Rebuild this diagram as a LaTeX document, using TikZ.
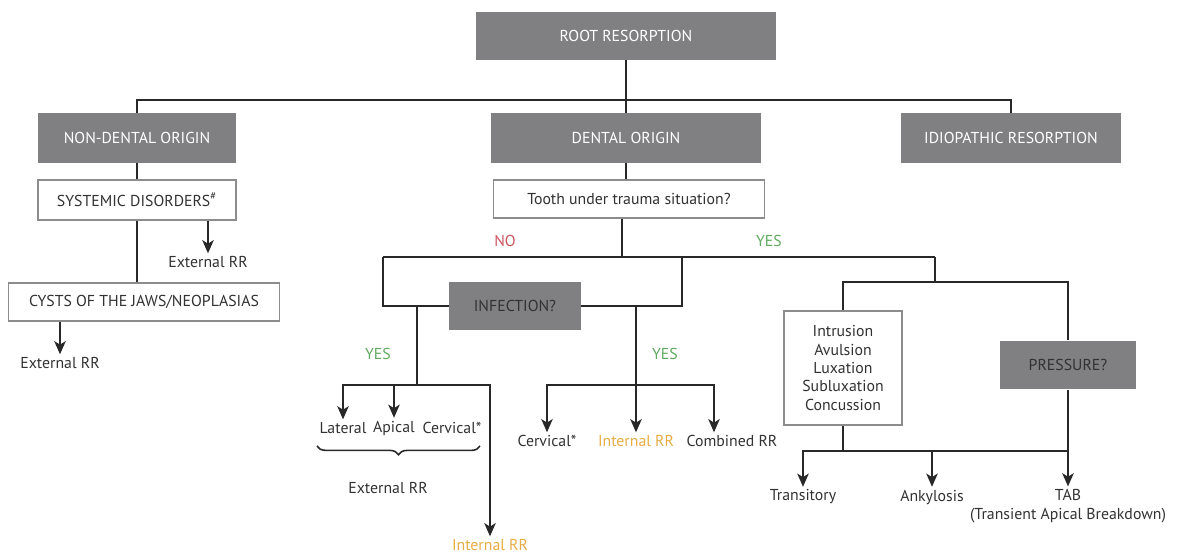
\documentclass[tikz,border=0pt]{standalone}
\usepackage{fontspec}
\setmainfont{PT Sans}
\definecolor{rrgray}{RGB}{128,128,131}
\definecolor{rrline}{RGB}{40,40,40}
\definecolor{rrframe}{RGB}{140,140,140}
\definecolor{rrtext}{RGB}{50,50,50}
\definecolor{rrgreen}{RGB}{95,170,95}
\definecolor{rrred}{RGB}{205,85,95}
\definecolor{rrorange}{RGB}{232,172,70}
\usetikzlibrary{arrows.meta,positioning,calc,decorations.pathreplacing}

\begin{document}
\begin{tikzpicture}[x=0.02cm,y=-0.02cm,
  font=\fontsize{9}{10.5}\selectfont,
  gbox/.style={fill=rrgray,text=white,minimum height=1cm,align=center,inner sep=2pt},
  wbox/.style={draw=rrframe,line width=0.9pt,fill=white,text=rrtext,align=center,inner sep=2pt},
  lbl/.style={text=rrtext,inner sep=1.5pt},
  conn/.style={draw=rrline,line width=1.1pt},
  arr/.style={conn,-{Stealth[length=7.5pt,width=6.5pt,inset=2pt]}}]
  \useasboundingbox (0,0) rectangle (1188,554);
  \node[gbox,minimum width=6.02cm,minimum height=0.96cm] (root) at (626,36) {ROOT RESORPTION};
  \node[gbox,minimum width=3.96cm] (nondental) at (137,138) {NON-DENTAL ORIGIN};
  \node[gbox,minimum width=5.42cm] (dental) at (626,138) {DENTAL ORIGIN};
  \node[gbox,minimum width=4.42cm] (idio) at (1011,138) {IDIOPATHIC RESORPTION};
  \node[wbox,minimum width=3.96cm,minimum height=0.8cm] (systemic) at (137,200) {SYSTEMIC DISORDERS\textsuperscript{\#}};
  \node[wbox,minimum width=5.42cm,minimum height=0.76cm] (cysts) at (144,302) {CYSTS OF THE JAWS/NEOPLASIAS};
  \node[wbox,minimum width=5.42cm,minimum height=0.76cm] (trauma) at (629,199) {Tooth under trauma situation?};
  \node[gbox,text=rrtext,minimum width=2.64cm,minimum height=0.98cm] (infection) at (515,306) {INFECTION?};
  \node[wbox,minimum width=2.36cm,minimum height=2.28cm] (intrusion) at (843,368) {Intrusion\\Avulsion\\Luxation\\Subluxation\\Concussion};
  \node[gbox,text=rrtext,minimum width=2.74cm,minimum height=0.98cm] (pressure) at (1068,365) {PRESSURE?};

  \node[lbl] (ext1) at (208,262) {External RR};
  \node[lbl] (ext2) at (60,363) {External RR};
  \node[lbl,text=rrred] (no) at (505,241) {NO};
  \node[lbl,text=rrgreen] (yes1) at (769,241) {YES};
  \node[lbl,text=rrgreen] (yes2) at (378,354) {YES};
  \node[lbl,text=rrgreen] (yes3) at (665,354) {YES};
  \node[lbl] (lateral) at (343,428) {Lateral};
  \node[lbl] (apical) at (394,428) {Apical};
  \node[lbl] (cervl) at (452,428) {Cervical*};
  \node[lbl] (extl) at (388,488) {External RR};
  \node[lbl,text=rrorange] (intl) at (490,545) {Internal RR};
  \node[lbl] (cervr) at (547,441) {Cervical*};
  \node[lbl,text=rrorange] (intr) at (636,441) {Internal RR};
  \node[lbl] (comb) at (732,441) {Combined RR};
  \node[lbl] (trans) at (803,497) {Transitory};
  \node[lbl] (ankyl) at (932,497) {Ankylosis};
  \node[lbl,align=center] (tab) at (1068,506) {TAB\\(Transient Apical Breakdown)};

  \coordinate (bar) at (626,100);
  \coordinate (nosplit) at (383,257);
  \coordinate (trsplit) at (622,257);
  \coordinate (noright) at (682,257);
  \coordinate (yessplit) at (935,257);
  \coordinate (trsplit2) at (935,282);
  \coordinate (lsplit) at (417,385);
  \coordinate (rsplit) at (636,385);
  \coordinate (osplit) at (843,451);
  \coordinate (brl) at (317,446);
  \coordinate (brr) at (480,446);

  \draw[conn] (root) -- (dental);
  \draw[conn] (nondental.north) |- (bar) -| (idio.north);
  \draw[conn] (nondental) -- (systemic);
  \draw[conn] (systemic.south) -- (systemic.south |- cysts.north);
  \draw[arr] (systemic.south -| ext1) -- (ext1);
  \draw[arr] (cysts.south -| ext2) -- (ext2);
  \draw[conn] (dental) -- (trauma.north -| dental);
  \draw[conn] (trauma.south -| trsplit) -- (trsplit);
  \draw[conn] (nosplit) -- (yessplit);
  \draw[conn] (nosplit) |- (infection.west);
  \draw[conn] (noright) |- (infection.east);
  \draw[conn] (lsplit |- infection.west) -- (lsplit);
  \draw[conn] (rsplit |- infection.east) -- (rsplit);
  \draw[arr] (lsplit) -| (lateral);
  \draw[arr] (apical |- lsplit) -- (apical);
  \draw[arr] (lsplit) -| (intl);
  \draw[conn,line width=0.9pt,decorate,decoration={brace,mirror,amplitude=5pt}] (brl) -- (brr);
  \draw[arr] (rsplit) -| (cervr);
  \draw[arr] (rsplit) -- (intr);
  \draw[arr] (rsplit) -| ([xshift=-0.36cm]comb.north);
  \draw[conn] (yessplit) -- (trsplit2);
  \draw[conn] (intrusion.north) |- (trsplit2) -| (pressure.north);
  \draw[conn] (intrusion) -- (osplit);
  \draw[arr] (osplit) -| (trans);
  \draw[conn] (osplit) -- (osplit -| pressure);
  \draw[arr] (ankyl |- osplit) -- (ankyl);
  \draw[arr] (pressure) -- (tab);
\end{tikzpicture}
\end{document}
